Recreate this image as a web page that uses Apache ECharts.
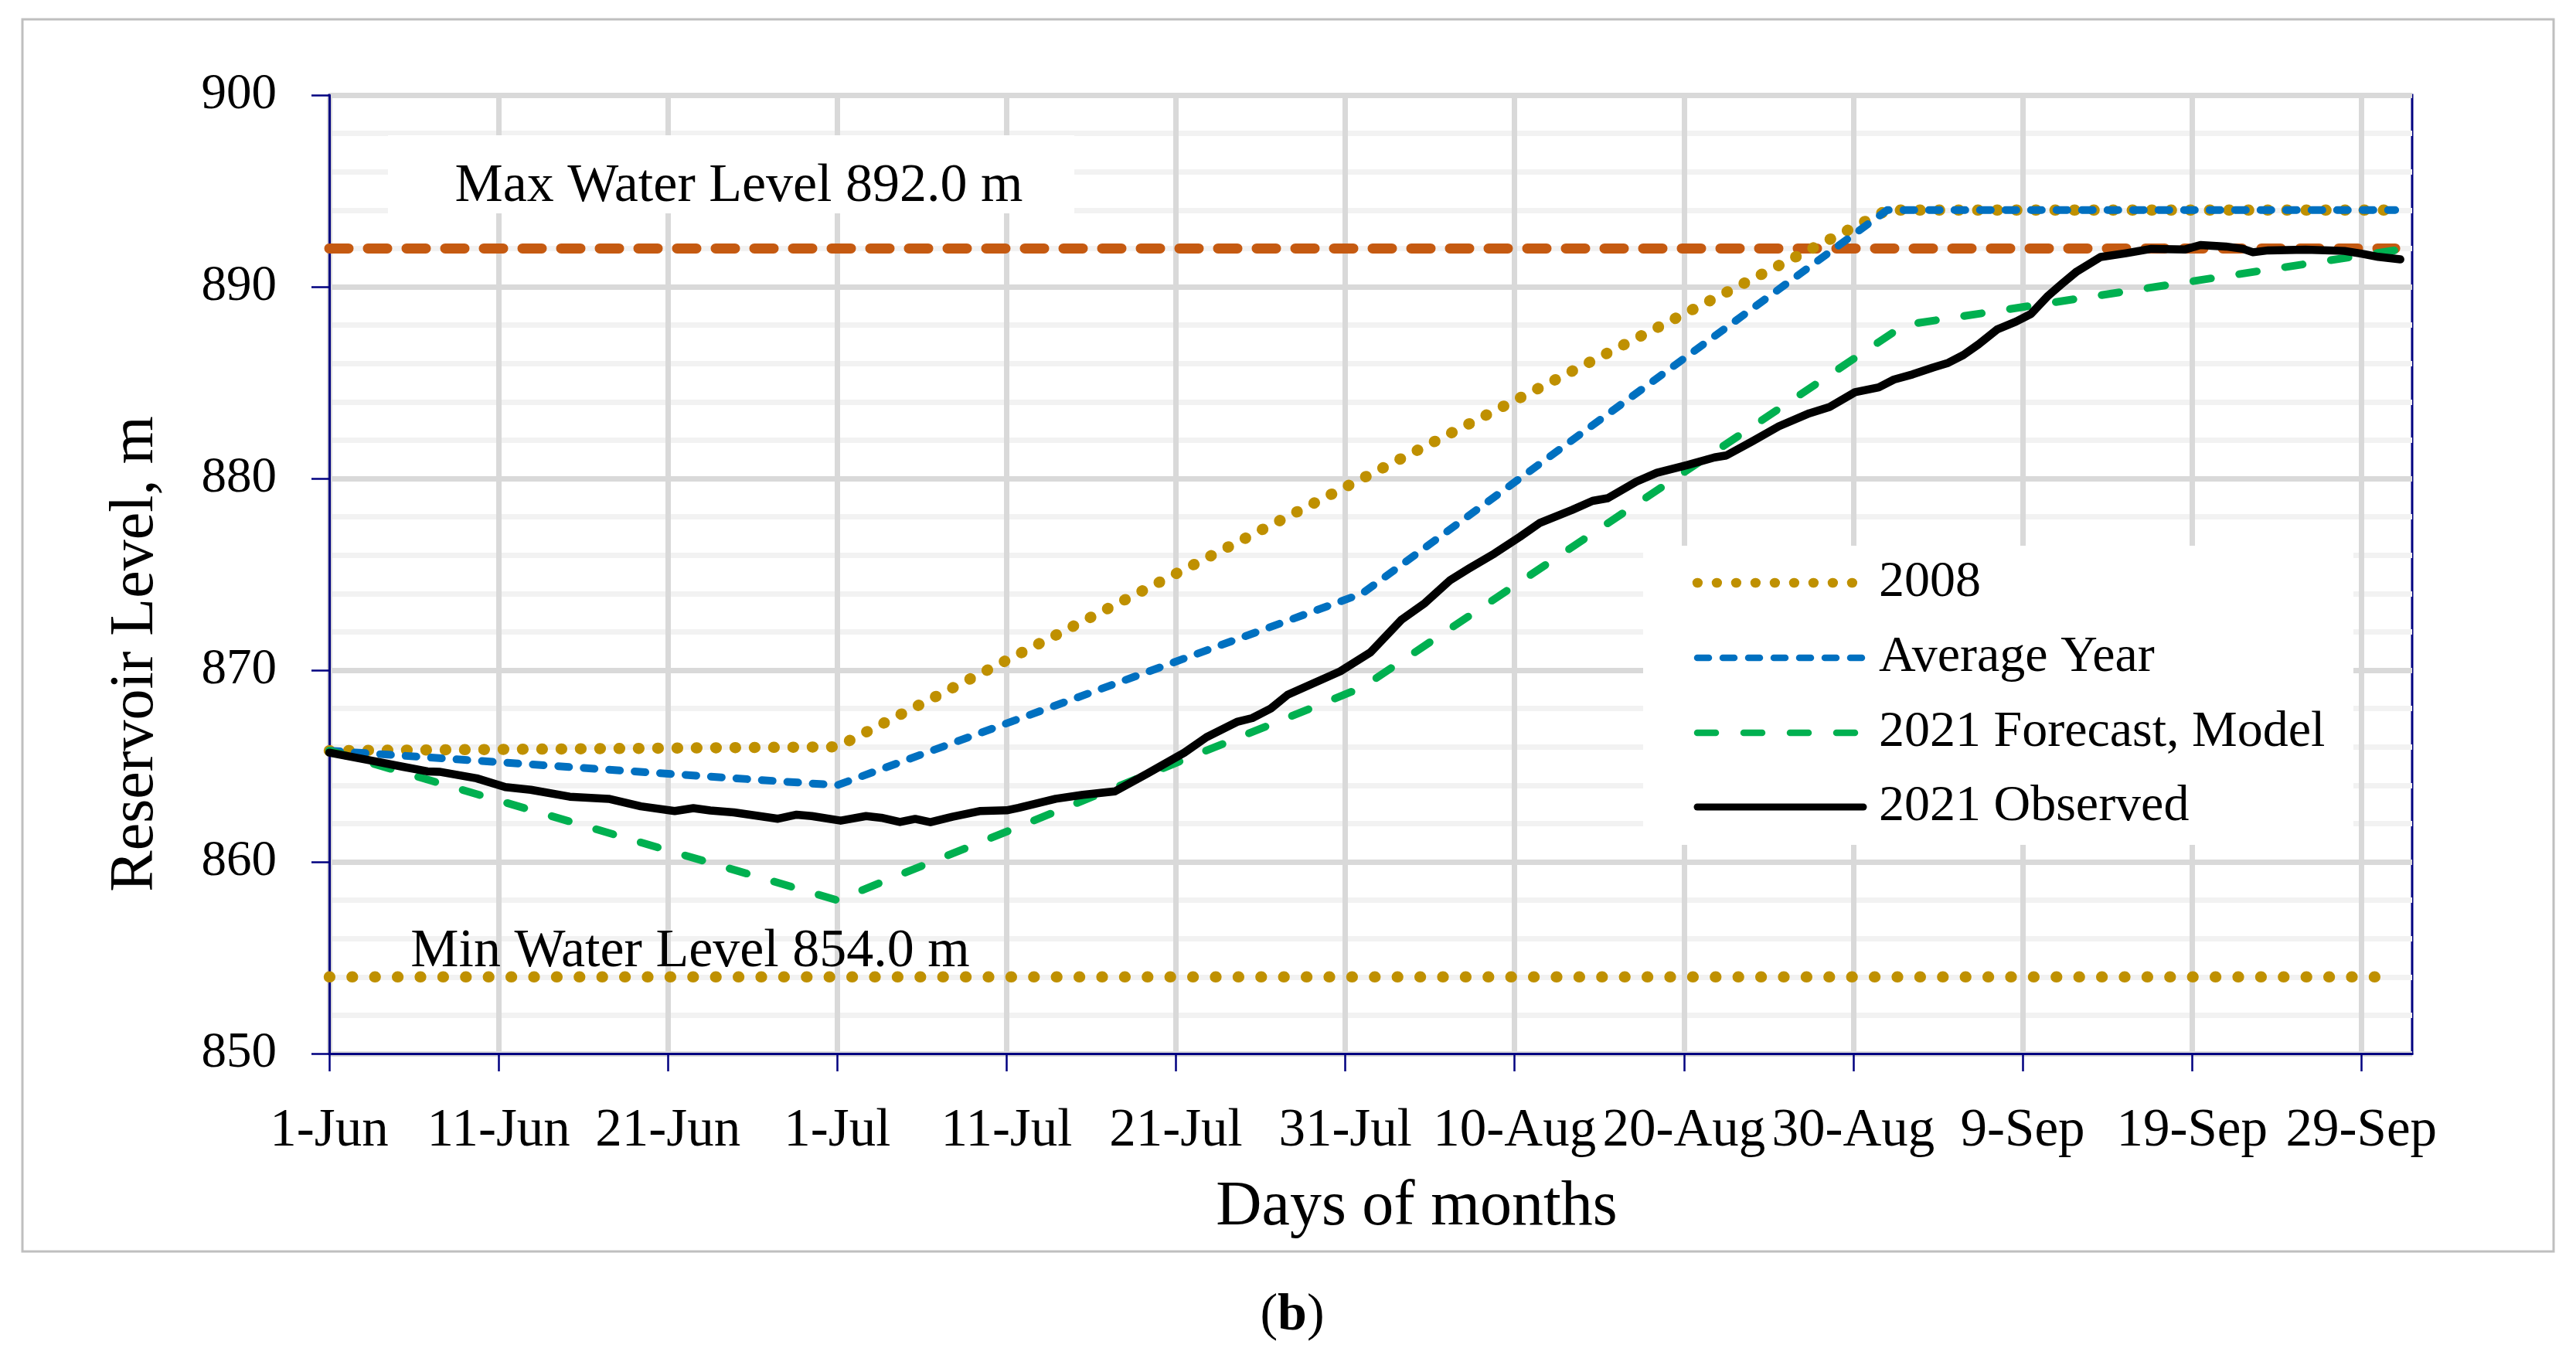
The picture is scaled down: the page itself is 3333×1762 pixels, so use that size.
<!DOCTYPE html>
<html>
<head>
<meta charset="utf-8">
<script src="https://cdn.jsdelivr.net/npm/echarts@6/dist/echarts.min.js"></script>
<style>
html,body{margin:0;padding:0;background:#fff;}
#chart{width:3333px;height:1762px;}
</style>
</head>
<body>
<div id="chart"></div>
<script>
// ---- data (x = days since 1-Jun) ----
const tickDays   = [0,10,20,30,40,50,60,70,80,90,100,110,120];
const tickLabels = ['1-Jun','11-Jun','21-Jun','1-Jul','11-Jul','21-Jul','31-Jul','10-Aug','20-Aug','30-Aug','9-Sep','19-Sep','29-Sep'];
const yTicks     = [850,860,870,880,890,900];

const maxLevel = 892.0;
const minLevel = 854.0;
const levelDays = [0, 122];

const y2008Days   = [0, 30, 92, 122];
const y2008Levels = [865.8, 866.0, 894.0, 894.0];

const avgDays   = [0, 30, 61, 92, 122];
const avgLevels = [865.8, 864.0, 874.0, 894.0, 894.0];

const fcDays   = [0, 30, 61, 93, 122];
const fcLevels = [865.8, 858.0, 869.1, 888.0, 891.9];

const obsDays = [0,1.5,2.7,4.3,5.8,6.5,8.7,10.4,11.9,14.2,16.5,18.4,20.4,21.5,22.5,23.9,26.5,27.6,28.5,30.2,31.7,32.6,33.7,34.6,35.5,36.8,38.4,40,40.7,42.9,44.5,46.4,48.3,50.5,51.8,53.6,54.5,55.6,56.6,59.7,61.5,63.3,64.7,66.2,67.3,68.8,70.3,71.5,73.4,74.6,75.5,77.2,78.4,80.2,81.8,82.5,84,85.6,87.4,88.6,90.1,91.5,92.4,93.5,94.7,95.6,96.5,97.4,98.5,99.6,100.5,101.5,102.3,103.2,104.6,106.1,107.6,109.6,110.5,112,113,113.6,114.5,116.7,119,120,121,122.3];
const obsLevels = [865.7,865.45,865.25,864.97,864.72,864.7,864.36,863.9,863.76,863.4,863.29,862.9,862.65,862.8,862.68,862.58,862.25,862.46,862.39,862.15,862.39,862.3,862.08,862.24,862.07,862.35,862.65,862.69,862.82,863.29,863.5,863.68,864.6,865.7,866.5,867.3,867.5,868.0,868.72,869.94,870.94,872.62,873.5,874.7,875.3,876.08,876.95,877.69,878.36,878.83,878.97,879.84,880.3,880.7,881.1,881.2,881.92,882.72,883.4,883.73,884.5,884.75,885.16,885.43,885.79,886.03,886.44,887.0,887.78,888.18,888.59,889.53,890.14,890.8,891.55,891.75,891.98,891.95,892.18,892.1,891.98,891.8,891.9,891.94,891.87,891.73,891.56,891.43];

const legendNames = ['2008', 'Average Year', '2021 Forecast, Model', '2021 Observed'];

const zip = (xs, ys) => xs.map((x, i) => [x, ys[i]]);
const FONT = '"Liberation Serif", "Times New Roman", serif';
const NAVY = '#000080';

// legend sample styles
const styles = {
  '2008':                 {color: '#BF9000', width: 12.5, dash: [0.8, 24.2]},
  'Average Year':         {color: '#0070C0', width: 8.5,  dash: [15, 18]},
  '2021 Forecast, Model': {color: '#00B050', width: 8.5,  dash: [24, 36]},
  '2021 Observed':        {color: '#000000', width: 9,    dash: null}
};
// in-plot line styles
const plotStyles = {
  '2008':                 {color: '#BF9000', width: 14.5, dash: [0.8, 24.2]},
  'Average Year':         {color: '#0070C0', width: 10,   dash: [14, 19]},
  '2021 Forecast, Model': {color: '#00B050', width: 10,   dash: [23, 37]},
  '2021 Observed':        {color: '#000000', width: 10.5, dash: null}
};

const chart = echarts.init(document.getElementById('chart'), null, {renderer: 'canvas'});

function lineSeries(name, data, z) {
  const s = plotStyles[name];
  return {name, type: 'line', showSymbol: false, symbol: 'none', z, data, color: s.color,
    itemStyle: {color: s.color},
    lineStyle: {color: s.color, width: s.width, type: s.dash || 'solid', cap: 'round', join: 'round'}};
}

// custom legend (drawn as graphic elements)
const legendGraphic = [{type: 'rect', z: 20, silent: true, shape: {x: 2126, y: 706, width: 919, height: 387}, style: {fill: '#ffffff'}}];
const legendRowY = [754, 851, 948, 1044];
const legendX2 = [2400, 2411, 2402, 2411];
legendNames.forEach((n, i) => {
  const s = styles[n];
  legendGraphic.push({type: 'line', z: 21, silent: true,
    shape: {x1: 2196, y1: legendRowY[i], x2: legendX2[i], y2: legendRowY[i]},
    style: {stroke: s.color, lineWidth: s.width, lineDash: s.dash || null, lineCap: 'round'}});
  legendGraphic.push({type: 'text', z: 21, x: 2431, y: legendRowY[i],
    style: {text: n, font: '66px ' + FONT, fill: '#000', align: 'left', verticalAlign: 'middle'}});
});

const option = {
  backgroundColor: '#ffffff',
  animation: false,
  grid: {left: 426, top: 123, width: 2695, height: 1240, show: true, borderColor: NAVY, borderWidth: 3, backgroundColor: 'transparent'},
  xAxis: {
    type: 'value', min: 0, max: 123, interval: 10,
    axisLine: {show: true, lineStyle: {color: NAVY, width: 3}},
    axisTick: {show: true, length: 23, inside: false, lineStyle: {color: NAVY, width: 2.5}, customValues: tickDays},
    axisLabel: {margin: 66, fontSize: 69, fontFamily: FONT, color: '#000',
      customValues: tickDays,
      formatter: v => { const i = tickDays.indexOf(Math.round(v)); return i >= 0 ? tickLabels[i] : ''; }},
    splitLine: {show: true, lineStyle: {color: '#d9d9d9', width: 7}}
  },
  yAxis: {
    type: 'value', min: yTicks[0], max: yTicks[yTicks.length - 1], interval: 10, splitNumber: 5,
    axisLine: {show: true, lineStyle: {color: NAVY, width: 3}},
    axisTick: {show: true, length: 23, lineStyle: {color: NAVY, width: 2.5}},
    minorTick: {show: false, splitNumber: 5},
    minorSplitLine: {show: true, lineStyle: {color: '#f2f2f2', width: 7}},
    axisLabel: {margin: 68, fontSize: 65, fontFamily: FONT, color: '#000'},
    splitLine: {show: true, lineStyle: {color: '#d9d9d9', width: 7}}
  },
  graphic: [
    {type: 'rect', z: 100, silent: true, shape: {x: 29, y: 25, width: 3275, height: 1594},
      style: {fill: 'none', stroke: '#bfbfbf', lineWidth: 3}},
    {type: 'rect', z: 1, silent: true, shape: {x: 502, y: 175, width: 888, height: 101}, style: {fill: '#ffffff'}},
    {type: 'text', z: 5, x: 956, y: 242, style: {text: 'Max Water Level 892.0 m', font: '70px ' + FONT, fill: '#000', align: 'center', verticalAlign: 'middle'}},
    {type: 'text', z: 5, x: 893, y: 1232, style: {text: 'Min Water Level 854.0 m', font: '70px ' + FONT, fill: '#000', align: 'center', verticalAlign: 'middle'}},
    {type: 'text', z: 5, x: 1833, y: 1562, style: {text: 'Days of months', font: '82px ' + FONT, fill: '#000', align: 'center', verticalAlign: 'middle'}},
    {type: 'text', z: 5, x: 176, y: 846, rotation: Math.PI / 2, style: {text: 'Reservoir Level, m', font: '80px ' + FONT, fill: '#000', align: 'center', verticalAlign: 'middle'}},
    {type: 'text', z: 5, x: 1672, y: 1702, style: {rich: {n: {font: '68px ' + FONT}, b: {font: 'bold 68px ' + FONT}}, text: '{n|(}{b|b}{n|)}', fill: '#000', align: 'center', verticalAlign: 'middle'}}
  ].concat(legendGraphic),
  series: [
    {name: 'Max Water Level', type: 'line', showSymbol: false, symbol: 'none', z: 2,
      data: zip(levelDays, levelDays.map(() => maxLevel)),
      lineStyle: {color: '#C55A11', width: 13, type: [25, 25], cap: 'round'}},
    {name: 'Min Water Level', type: 'line', showSymbol: false, symbol: 'none', z: 2,
      data: zip(levelDays, levelDays.map(() => minLevel)),
      lineStyle: {color: '#BF9000', width: 14.5, type: [0.8, 28.6], cap: 'round'}},
    lineSeries('2008', zip(y2008Days, y2008Levels), 3),
    lineSeries('Average Year', zip(avgDays, avgLevels), 4),
    lineSeries('2021 Forecast, Model', zip(fcDays, fcLevels), 5),
    lineSeries('2021 Observed', zip(obsDays, obsLevels), 6)
  ]
};
chart.setOption(option);
</script>
</body>
</html>
